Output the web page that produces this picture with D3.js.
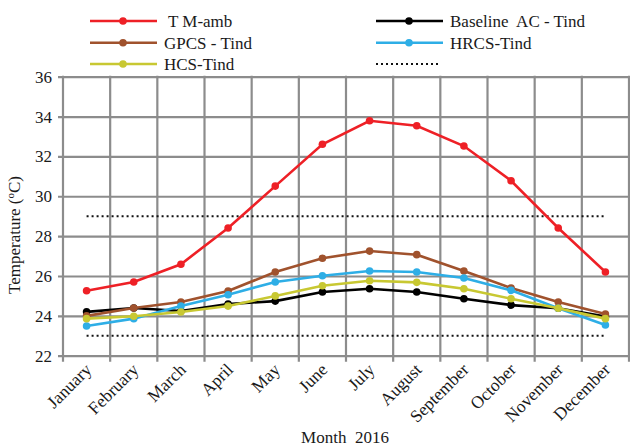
<!DOCTYPE html>
<html><head><meta charset="utf-8">
<script src="https://cdn.jsdelivr.net/npm/d3@7"></script>
<style>
body{margin:0;background:#fff;}
svg{display:block;}
svg text{font-family:"Liberation Serif","Times New Roman",serif !important;fill:#1a1a1a;}
</style></head>
<body><svg id="c" width="630" height="447"></svg>
<script>
const months = ["January","February","March","April","May","June","July","August","September","October","November","December"];
const yTicks = [22,24,26,28,30,32,34,36];
const tmAmb    = [25.26,25.70,26.59,28.41,30.51,32.61,33.79,33.54,32.52,30.78,28.41,26.20];
const baseline = [24.20,24.39,24.24,24.59,24.74,25.20,25.36,25.20,24.86,24.54,24.38,23.96];
const gpcs     = [24.00,24.39,24.69,25.25,26.20,26.89,27.25,27.07,26.25,25.40,24.69,24.09];
const hrcs     = [23.49,23.86,24.49,25.06,25.70,26.01,26.25,26.20,25.90,25.28,24.38,23.54];
const hcs      = [23.86,23.98,24.19,24.49,25.00,25.51,25.76,25.68,25.36,24.86,24.38,23.86];
const upperLimit = [29,29,29,29,29,29,29,29,29,29,29,29];
const lowerLimit = [23,23,23,23,23,23,23,23,23,23,23,23];

const series = [
  {name:" T M-amb", values:tmAmb, color:"#ee2026"},
  {name:"Baseline  AC - Tind", values:baseline, color:"#000000"},
  {name:"GPCS - Tind", values:gpcs, color:"#a0522d"},
  {name:"HRCS-Tind", values:hrcs, color:"#2eaee6"},
  {name:"HCS-Tind", values:hcs, color:"#c8c832"}
];

const FF = "Liberation Serif, Times New Roman, serif";
const svg = d3.select("#c").attr("font-family",FF);
const L=63, R=629, T=76.7, B=355.7;
const x = d3.scaleBand().domain(months).range([L,R]).padding(0);
const y = d3.scaleLinear().domain([22,36]).range([B,T]);
const cx = m => x(m)+x.bandwidth()/2;
const grid = "#8c8c8c";

// horizontal grid + y axis labels
const ya = svg.append("g").attr("transform",`translate(${L},0)`)
  .call(d3.axisLeft(y).tickValues(yTicks).tickSize(-(R-L)).tickPadding(11).tickFormat(d3.format("d")));
ya.attr("font-family",FF).attr("font-size",17);
ya.select(".domain").remove();
ya.selectAll(".tick line").attr("x1",-5).attr("stroke",grid).attr("stroke-width",2.2);
ya.selectAll(".tick text").attr("fill","#1a1a1a");

// vertical grid at category boundaries
const bounds = months.map(m=>x(m)).concat([R]);
svg.append("g").selectAll("line").data(bounds).join("line")
  .attr("x1",d=>d).attr("x2",d=>d).attr("y1",T-1).attr("y2",B+6)
  .attr("stroke",grid).attr("stroke-width",2.2);

// x labels
const xa = svg.append("g").attr("transform",`translate(0,${B})`)
  .call(d3.axisBottom(x).tickSize(0).tickPadding(0));
xa.attr("font-family",FF).attr("font-size",17.5);
xa.select(".domain").remove();
xa.selectAll(".tick text")
  .attr("fill","#1a1a1a")
  .attr("text-anchor","end").attr("dy",0).attr("y",0)
  .attr("transform","translate(6,15) rotate(-45)");

// axis titles
svg.append("text").attr("x",345).attr("y",443).attr("text-anchor","middle").attr("font-size",17)
  .style("white-space","pre").text("Month  2016");
const yt = svg.append("text").attr("transform","translate(20,235) rotate(-90)").attr("text-anchor","middle").attr("font-size",17);
yt.append("tspan").text("Temperature (");
yt.append("tspan").attr("font-size",11).attr("dy",-6).text("o");
yt.append("tspan").attr("dy",6).text("C)");

// limit dotted lines
const line = d3.line().x((d,i)=>cx(months[i])).y(d=>y(d));
[upperLimit, lowerLimit].forEach(v=>{
  svg.append("path").attr("d",line(v)).attr("fill","none").attr("stroke","#111")
    .attr("stroke-width",2).attr("stroke-dasharray","2,3");
});

// series
series.forEach(s=>{
  const g = svg.append("g");
  g.append("path").attr("d",line(s.values)).attr("fill","none").attr("stroke",s.color).attr("stroke-width",2.6);
  g.selectAll("circle").data(s.values).join("circle")
    .attr("cx",(d,i)=>cx(months[i])).attr("cy",d=>y(d)).attr("r",3.8).attr("fill",s.color);
});

// legend
const leg = [
  {s:series[0], lx:90, ly:21},
  {s:series[2], lx:90, ly:42.7},
  {s:series[4], lx:90, ly:64},
  {s:series[1], lx:376, ly:21},
  {s:series[3], lx:376, ly:42.7}
];
leg.forEach(o=>{
  svg.append("line").attr("x1",o.lx).attr("x2",o.lx+67).attr("y1",o.ly).attr("y2",o.ly)
    .attr("stroke",o.s.color).attr("stroke-width",2.6);
  svg.append("circle").attr("cx",o.lx+33).attr("cy",o.ly).attr("r",3.8).attr("fill",o.s.color);
  svg.append("text").attr("x",o.lx+74).attr("y",o.ly+6).attr("font-size",17)
    .style("white-space","pre").text(o.s.name);
});
svg.append("line").attr("x1",376).attr("x2",438).attr("y1",64).attr("y2",64)
  .attr("stroke","#111").attr("stroke-width",2).attr("stroke-dasharray","2,3");
</script></body></html>
